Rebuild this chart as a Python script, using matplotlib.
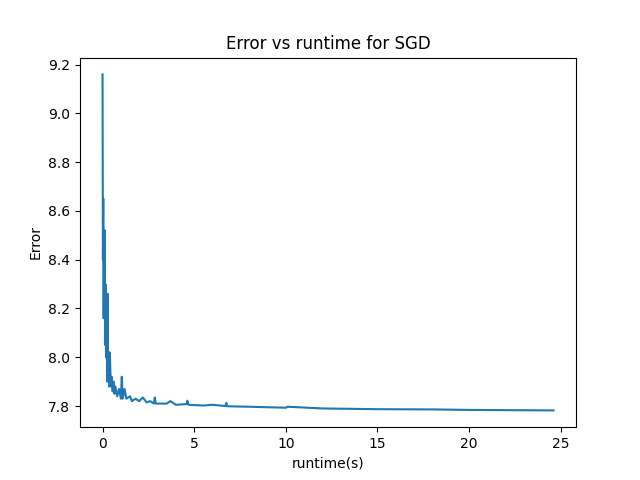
import matplotlib
matplotlib.use("Agg")
import matplotlib.pyplot as plt

runtime = [0, 0.02, 0.04, 0.06, 0.08, 0.1, 0.12, 0.14, 0.16, 0.2, 0.22, 0.25, 0.28, 0.3, 0.33,
           0.36, 0.4, 0.45, 0.5, 0.55, 0.6, 0.65, 0.7, 0.8, 0.9, 1.0, 1.05, 1.1, 1.2, 1.3,
           1.5, 1.6, 1.8, 2.0, 2.2, 2.4, 2.6, 2.8, 2.85, 2.9, 3.5, 3.7, 4.0, 4.6, 4.62, 4.7,
           5.5, 6.0, 6.7, 6.75, 6.8, 8, 10, 10.1, 12, 15, 18, 20, 22, 24.6]
error = [9.16, 8.4, 8.65, 8.16, 8.5, 8.2, 8.52, 8.05, 8.3, 8.0, 8.25, 7.9, 8.26, 7.95, 8.02,
         7.88, 8.02, 7.88, 7.92, 7.86, 7.9, 7.85, 7.88, 7.84, 7.87, 7.83, 7.92, 7.83, 7.87, 7.83,
         7.84, 7.82, 7.83, 7.82, 7.835, 7.815, 7.82, 7.81, 7.835, 7.81, 7.81, 7.82, 7.805, 7.808, 7.822, 7.805,
         7.802, 7.805, 7.80, 7.813, 7.799, 7.797, 7.793, 7.797, 7.79, 7.787, 7.786, 7.784, 7.783, 7.782]

fig, ax = plt.subplots(figsize=(6.4, 4.8), dpi=100)
ax.plot(runtime, error)
ax.set_title("Error vs runtime for SGD")
ax.set_xlabel("runtime(s)")
ax.set_ylabel("Error")
fig.savefig("out.png")
